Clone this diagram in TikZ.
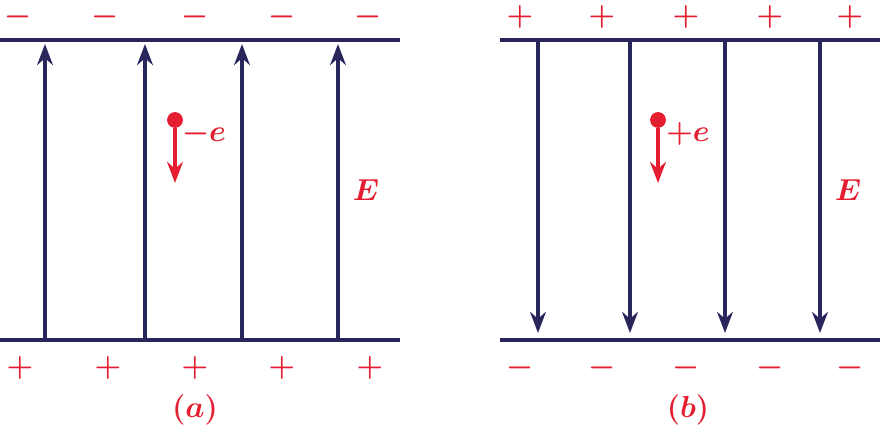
\documentclass[tikz,border=0pt]{standalone}
\usetikzlibrary{arrows.meta}
\definecolor{plate}{RGB}{40,38,90}
\definecolor{charge}{RGB}{228,30,48}
\begin{document}
\begin{tikzpicture}[x=0.02cm,y=-0.02cm]
		\tikzstyle{plate line}=[plate,line width=2.4pt]
		\tikzstyle{field line}=[plate,line width=1.8pt,-{Stealth[length=12pt,width=9pt]}]
		\tikzstyle{sign}=[charge,font=\LARGE\boldmath,inner sep=0pt]
		\tikzstyle{label}=[charge,font=\LARGE\bfseries\boldmath,inner sep=0pt]
		\tikzstyle{particle}=[circle,fill=charge,minimum size=9pt,inner sep=0pt]
		\tikzstyle{force}=[charge,line width=1.8pt,-{Stealth[length=12pt,width=9pt]}]
		\useasboundingbox (0,0) rectangle (880,435);

			% Plates
		\coordinate (TL-1) at (0,40);   \coordinate (TL-2) at (400,40);
		\coordinate (BL-1) at (0,340);  \coordinate (BL-2) at (400,340);
		\coordinate (TR-1) at (500,40); \coordinate (TR-2) at (880,40);
		\coordinate (BR-1) at (500,340);\coordinate (BR-2) at (880,340);
		\draw[plate line] (TL-1) -- (TL-2);
		\draw[plate line] (BL-1) -- (BL-2);
		\draw[plate line] (TR-1) -- (TR-2);
		\draw[plate line] (BR-1) -- (BR-2);

			% Field lines, left (upwards) and right (downwards)
		\foreach \name / \x in {1/45,2/145,3/242,4/338} {
		\coordinate (FLs-\name) at (\x,340);
		\coordinate (FLe-\name) at (\x,44);
		\draw[field line] (FLs-\name) -- (FLe-\name);
		}
		\foreach \name / \x in {1/538,2/630,3/725,4/820} {
		\coordinate (FRs-\name) at (\x,40);
		\coordinate (FRe-\name) at (\x,333);
		\draw[field line] (FRs-\name) -- (FRe-\name);
		}

			% Charges on the plates
		\foreach \name / \x in {1/18,2/105,3/195,4/282,5/368}
		\node[sign] (SLt-\name) at (\x,17) {$-$};
		\foreach \name / \x in {1/20,2/108,3/195,4/282,5/370}
		\node[sign] (SLb-\name) at (\x,368) {$+$};
		\foreach \name / \x in {1/520,2/602,3/686,4/770,5/850}
		\node[sign] (SRt-\name) at (\x,17) {$+$};
		\foreach \name / \x in {1/520,2/602,3/686,4/770,5/850}
		\node[sign] (SRb-\name) at (\x,368) {$-$};

			% Test charges
		\node[particle] (PL) at (175,120) {};
		\coordinate (PL-end) at (175,183);
		\draw[force] (PL) -- (PL-end);
		\node[label] (QL) at (204,134) {$-e$};
		\node[particle] (PR) at (658,120) {};
		\coordinate (PR-end) at (658,183);
		\draw[force] (PR) -- (PR-end);
		\node[label] (QR) at (688,134) {$+e$};

		\node[label] (EL) at (366,190) {$E$};
		\node[label] (ER) at (848,190) {$E$};
		\node[label] (CapA) at (195,410) {$(a)$};
		\node[label] (CapB) at (688,410) {$(b)$};
		\end{tikzpicture}
\end{document}
